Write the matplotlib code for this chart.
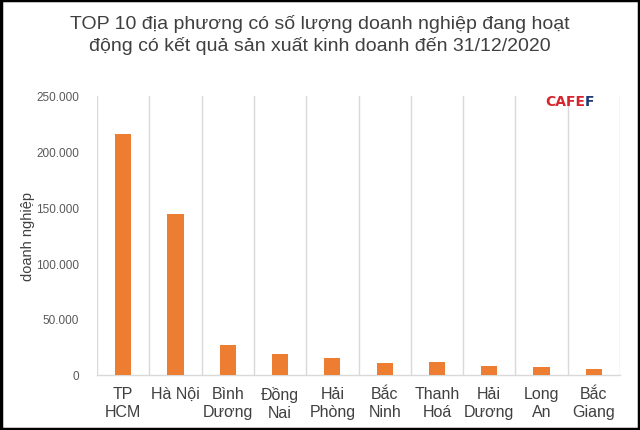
import matplotlib
matplotlib.use("Agg")
import matplotlib.pyplot as plt
from matplotlib.patches import Rectangle

categories = ["TP\nHCM", "Hà Nội", "Bình\nDương", "Đồng\nNai", "Hải\nPhòng",
              "Bắc\nNinh", "Thanh\nHoá", "Hải\nDương", "Long\nAn", "Bắc\nGiang"]
values = [215900, 144300, 26800, 18700, 14800, 10000, 11000, 7600, 7000, 4900]
yticks = [0, 50000, 100000, 150000, 200000, 250000]
ytick_labels = ["0", "50.000", "100.000", "150.000", "200.000", "250.000"]
title = "TOP 10 địa phương có số lượng doanh nghiệp đang hoạt\nđộng có kết quả sản xuất kinh doanh đến 31/12/2020"
ylabel = "doanh nghiệp"

plt.rcParams['font.family'] = ['Liberation Sans', 'DejaVu Sans']

fig = plt.figure(figsize=(6.4, 4.31), dpi=100)
ax = fig.add_axes([97/640, 1 - 375.5/431, (620-97)/640, (375.5-97)/431])

x = list(range(len(categories)))
ax.bar(x, values, width=0.31, color="#ED7D31", zorder=3)
ax.set_xlim(-0.5, len(categories) - 0.5)
ax.set_ylim(0, 250000)
ax.set_yticks(yticks)
ax.set_yticklabels(ytick_labels, fontsize=8.5, color="#595959")
ax.set_xticks(x)
ax.set_xticklabels(categories, fontsize=11.5, color="#404040", linespacing=1.3)
ax.tick_params(axis='both', length=0)
ax.tick_params(axis='y', pad=13)
ax.tick_params(axis='x', pad=8)

# vertical separators between categories
for b in [i - 0.5 for i in range(len(categories) + 1)]:
    ax.axvline(b, color="#d9d9d9", lw=1, zorder=1)

for s in ["top", "right", "left"]:
    ax.spines[s].set_visible(False)
ax.spines["bottom"].set_color("#d9d9d9")
ax.spines["bottom"].set_linewidth(1)

ax.set_ylabel(ylabel, fontsize=10.5, color="#404040")
ax.yaxis.set_label_coords((35 - 97) / 523, 0.5)

fig.text(0.5, 1 - 35/431, title, ha="center", va="center", fontsize=14,
         color="#404040", linespacing=1.25)

# CAFEF logo
t1 = fig.text(545/640, 1 - 102/431, "CAFE", fontsize=10, fontweight="bold",
              color="#d7252e", ha="left", va="center", family="DejaVu Sans")
fig.canvas.draw()
bb = t1.get_window_extent()
fig.text(bb.x1 / 640, 1 - 102/431, "F", fontsize=10, fontweight="bold",
         color="#1f3b73", ha="left", va="center", family="DejaVu Sans")

# figure border
fig.patches.append(Rectangle((0.002, 0.003), 0.996, 0.994, transform=fig.transFigure,
                             fill=False, edgecolor="black", lw=2.5))

fig.savefig("out.png", dpi=100, facecolor="white")
